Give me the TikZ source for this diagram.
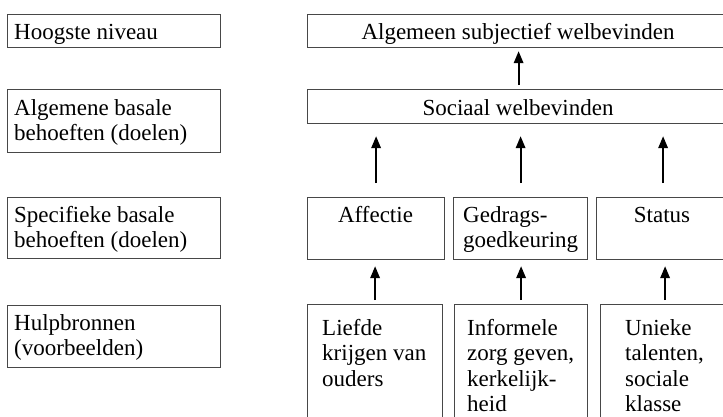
\documentclass[tikz,border=0pt]{standalone}
\usepackage{fontspec}
\setmainfont{Liberation Serif}
\usetikzlibrary{arrows.meta}
\begin{document}
\begin{tikzpicture}[x=1pt,y=-1pt,
  box/.style={draw=black!72,line width=1.2pt,inner sep=0pt,anchor=north west},
  txt/.style={inner sep=0pt,font=\fontsize{23}{25.5}\selectfont},
  arr/.style={line width=1.8pt,-{Triangle[length=12pt,width=9.5pt]}}]
\useasboundingbox (0,0) rectangle (723,416);
\clip (0,0) rectangle (723,416);
\fill[white] (0,0) rectangle (723,416);
% left column
\node[box,minimum width=213pt,minimum height=33pt] (l1) at (7,14) {};
\node[box,minimum width=213pt,minimum height=63pt] (l2) at (7,89) {};
\node[box,minimum width=213pt,minimum height=61pt] (l3) at (7,197) {};
\node[box,minimum width=213pt,minimum height=62pt] (l4) at (7,305) {};
\node[txt,anchor=base west] (t1) at (14,39) {Hoogste niveau};
\node[txt,anchor=base west] (t2) at (14,115) {\begin{tabular}[t]{@{}l@{}}Algemene basale\\behoeften (doelen)\end{tabular}};
\node[txt,anchor=base west] (t3) at (14,222) {\begin{tabular}[t]{@{}l@{}}Specifieke basale\\behoeften (doelen)\end{tabular}};
\node[txt,anchor=base west] (t4) at (14,330) {\begin{tabular}[t]{@{}l@{}}Hulpbronnen\\(voorbeelden)\end{tabular}};
% right column
\node[box,minimum width=422pt,minimum height=33pt] (top) at (307,14) {};
\node[box,minimum width=422pt,minimum height=34pt] (soc) at (307,89) {};
\node[box,minimum width=137pt,minimum height=62pt] (aff) at (307,197) {};
\node[box,minimum width=134pt,minimum height=62pt] (ged) at (453,197) {};
\node[box,minimum width=133pt,minimum height=62pt] (sta) at (596,197) {};
\node[box,minimum width=135pt,minimum height=126pt] (b1) at (307,304) {};
\node[box,minimum width=133pt,minimum height=126pt] (b2) at (454,304) {};
\node[box,minimum width=129pt,minimum height=126pt] (b3) at (600,304) {};
\node[txt,anchor=base] (ttop) at (518,39) {Algemeen subjectief welbevinden};
\node[txt,anchor=base] (tsoc) at (518,115) {Sociaal welbevinden};
\node[txt,anchor=base] (taff) at (375.5,222) {Affectie};
\node[txt,anchor=base west] (tged) at (463,222) {\begin{tabular}[t]{@{}l@{}}Gedrags-\\goedkeuring\end{tabular}};
\node[txt,anchor=base] (tsta) at (662,222) {Status};
\node[txt,anchor=base west] (tb1) at (322,335) {\begin{tabular}[t]{@{}l@{}}Liefde\\krijgen van\\ouders\end{tabular}};
\node[txt,anchor=base west] (tb2) at (467,335) {\begin{tabular}[t]{@{}l@{}}Informele\\zorg geven,\\kerkelijk-\\heid\end{tabular}};
\node[txt,anchor=base west] (tb3) at (625,335) {\begin{tabular}[t]{@{}l@{}}Unieke\\talenten,\\sociale\\klasse\end{tabular}};
% arrows
\draw[arr] ([yshift=4pt]soc.north) -- ([yshift=-3pt]top.south);
\draw[arr] ([yshift=14pt]aff.north) -- ([yshift=-12pt]aff.north |- soc.south);
\draw[arr] ([yshift=14pt]ged.north) -- ([yshift=-12pt]ged.north |- soc.south);
\draw[arr] ([yshift=14pt]sta.north) -- ([yshift=-12pt]sta.north |- soc.south);
\draw[arr] ([yshift=4pt]b1.north) -- ([yshift=-6pt]b1.north |- aff.south);
\draw[arr] ([yshift=4pt]b2.north) -- ([yshift=-6pt]b2.north |- ged.south);
\draw[arr] ([yshift=4pt]b3.north) -- ([yshift=-6pt]b3.north |- sta.south);
\end{tikzpicture}
\end{document}
